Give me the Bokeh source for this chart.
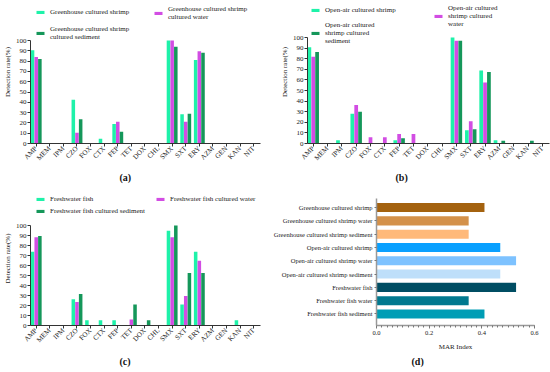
import math
import numpy as np
from bokeh.plotting import figure
from bokeh.models import (Range1d, FixedTicker, Legend, LegendItem, Title,
                          ColumnDataSource, NumeralTickFormatter)
from bokeh.layouts import column, row
from bokeh.embed import file_html
from bokeh.resources import INLINE

# ---------------- data ----------------
drugs = ["AMP", "MEM", "IPM", "CZO", "FOX", "CTX", "FEP", "TET", "DOX", "CHL",
         "SMX", "SXT", "ERY", "AZM", "GEN", "KAN", "NIT"]

a_shrimp = [90.5, 0, 0, 42.5, 0, 4.5, 19, 0, 0, 0, 100, 28.5, 81, 0, 0, 0, 0]
a_water = [84, 0, 0, 10.5, 0, 0, 21, 0, 0, 0, 100, 21, 89.5, 0, 0, 0, 0]
a_sed = [82, 0, 0, 23.5, 0, 0, 11.5, 0, 0, 0, 94, 29, 88, 0, 0, 0, 0]

b_shrimp = [90.9, 0, 3, 28, 0, 0, 3, 0, 0, 0, 100, 12.5, 68.8, 3, 0, 0, 0]
b_water = [81.8, 0, 0, 36.4, 6, 6, 9, 9, 0, 0, 97, 21, 57.6, 0, 0, 0, 0]
b_sed = [86.4, 0, 0, 30, 0, 0, 5, 0, 0, 0, 97, 13.5, 67.5, 2.7, 0, 2.7, 0]

c_fish = [73.7, 0, 0, 26.3, 5.3, 5.3, 5.3, 0, 0, 0, 94.7, 21, 73.7, 0, 0, 5.3, 0]
c_water = [88.2, 0, 0, 23.5, 0, 0, 0, 5.9, 0, 0, 88.2, 29.4, 64.7, 0, 0, 0, 0]
c_sed = [89.5, 0, 0, 31.6, 0, 0, 0, 21, 5.3, 0, 100, 52.6, 52.6, 0, 0, 0, 0]

a_labels = ["Greenhouse cultured shrimp", "Greenhouse cultured shrimp\ncultured water",
            "Greenhouse cultured shrimp\ncultured sediment"]
b_labels = ["Open-air cultured shrimp", "Open-air cultured\nshrimp cultured\nwater",
            "Open-air cultured\nshrimp cultured\nsediment"]
c_labels = ["Freshwater fish", "Freshwater fish cultured water",
            "Freshwater fish cultured sediment"]

y_ticks = [0, 10, 20, 30, 40, 50, 60, 70, 80, 90, 100]

mar_groups = ["Greenhouse cultured shrimp", "Greenhouse cultured shrimp water",
              "Greenhouse cultured shrimp sediment", "Open-air cultured shrimp",
              "Open-air cultured shrimp water", "Open-air cultured shrimp sediment",
              "Freshwater fish", "Freshwater fish water", "Freshwater fish sediment"]
mar_values = [0.41, 0.35, 0.35, 0.47, 0.53, 0.47, 0.53, 0.35, 0.41]
mar_ticks = [0.0, 0.2, 0.4, 0.6]

# ---------------- styles ----------------
FONT = "Liberation Serif"
series_colors = ["#1EF2A9", "#D24DE3", "#15975A"]
mar_colors = ["#A4620F", "#D4914A", "#FFB97A", "#09A0FF", "#7DC2FF", "#BEDFFA",
              "#004D63", "#00798F", "#009DB5"]


def style_axis(ax, size="7px"):
    ax.axis_line_color = "#333333"
    ax.major_tick_line_color = "#333333"
    ax.minor_tick_line_color = None
    ax.major_tick_out = 3
    ax.major_tick_in = 0
    ax.major_label_standoff = 1
    ax.major_label_text_font = FONT
    ax.major_label_text_font_size = size
    ax.major_label_text_color = "#222222"
    ax.axis_label_text_font = FONT
    ax.axis_label_text_font_size = "7px"
    ax.axis_label_text_font_style = "normal"
    ax.axis_label_text_color = "#222222"


def tag_title(text, offset, standoff):
    return Title(text=text, align="left", offset=offset, standoff=standoff,
                 text_font=FONT, text_font_style="bold", text_font_size="10px",
                 text_color="#111111")


def bar_panel(width, height, borders, y_end, series, labels, legend_pos, tag, tag_off,
              tag_standoff, xr):
    left, right, top, bottom = borders
    p = figure(width=width, height=height, output_backend="svg", toolbar_location=None,
               x_range=Range1d(*xr), y_range=Range1d(0, y_end),
               min_border_left=left, min_border_right=right,
               min_border_top=top, min_border_bottom=bottom)
    p.outline_line_color = None
    p.grid.visible = False
    x = np.arange(len(drugs))
    offsets = [-0.27, 0.0, 0.27]
    rends = []
    for vals, off, col in zip(series, offsets, series_colors):
        src = ColumnDataSource(dict(x=x + off, top=vals))
        r = p.vbar(x="x", top="top", width=0.26, source=src, fill_color=col, line_color=None)
        rends.append(r)
    style_axis(p.xaxis[0])
    style_axis(p.yaxis[0])
    p.xaxis.ticker = FixedTicker(ticks=list(range(len(drugs))))
    p.xaxis.major_label_overrides = {i: d for i, d in enumerate(drugs)}
    p.xaxis.major_label_orientation = math.pi / 4
    p.yaxis.ticker = FixedTicker(ticks=y_ticks)
    p.yaxis.bounds = (0, 100)
    p.yaxis.axis_label = "Detection rate(%)"
    p.yaxis.axis_label_standoff = 1
    for r, lab, (vx, vy) in zip(rends, labels, legend_pos):
        leg = Legend(items=[LegendItem(label=lab, renderers=[r])], location=(vx, vy),
                     background_fill_alpha=0, border_line_color=None, padding=0, margin=0,
                     spacing=0, glyph_width=10, glyph_height=4, label_standoff=5,
                     label_height=4, label_width=5, label_text_font=FONT,
                     label_text_font_size="7px", label_text_line_height=1.15,
                     label_text_color="#222222")
        p.add_layout(leg, "center")
    p.add_layout(tag_title(tag, tag_off, tag_standoff), "below")
    return p


# top row (height 191): frame bottom at y=143, 100% line at 40 (a) / 37 (b)
pa = bar_panel(270, 191, (28, 10, 0, 48), 100 * 143 / 103, [a_shrimp, a_water, a_sed], a_labels,
               [(5, 127.3), (123, 122.5), (5, 102.5)], "(a)", 89, 5, (-0.42, 16.5))
pb = bar_panel(280, 191, (37, 1, 0, 48), 100 * 143 / 106, [b_shrimp, b_water, b_sed], b_labels,
               [(3, 128.7), (126, 115), (3, 98)], "(b)", 88, 5, (-0.4, 16.5))
# bottom row (height 181, starts at y=191): frame bottom at 134 within figure (y=325)
pc = bar_panel(270, 181, (28, 10, 0, 47), 134.0, [c_fish, c_water, c_sed], c_labels,
               [(5, 122), (125, 122), (5, 110)], "(c)", 89, 9, (-0.42, 16.5))

# ---------------- panel d ----------------
n = len(mar_groups)
ypos = list(range(n - 1, -1, -1))
pd = figure(width=280, height=181, output_backend="svg", toolbar_location=None,
            y_range=Range1d(-0.865, 9.21), x_range=Range1d(0, 0.6),
            min_border_left=103, min_border_right=16, min_border_top=0, min_border_bottom=47)
pd.outline_line_color = None
pd.grid.visible = False
src_d = ColumnDataSource(dict(y=ypos, right=mar_values, color=mar_colors))
pd.hbar(y="y", right="right", left=0, height=0.68, fill_color="color", line_color=None, source=src_d)
style_axis(pd.xaxis[0], "6.5px")
style_axis(pd.yaxis[0], "6.5px")
for ax in (pd.xaxis[0], pd.yaxis[0]):
    ax.axis_line_color = "#999999"
    ax.axis_line_width = 1.5
    ax.major_tick_line_color = "#777777"
pd.yaxis.ticker = FixedTicker(ticks=ypos)
pd.yaxis.major_label_overrides = {yv: g for yv, g in zip(ypos, mar_groups)}
pd.yaxis.bounds = (-0.865, 8.68)
pd.yaxis.major_tick_out = 2
pd.yaxis.major_label_standoff = 2
pd.xaxis.ticker = FixedTicker(ticks=mar_ticks, minor_ticks=list(np.round(np.arange(0, 0.601, 0.02), 2)))
pd.xaxis.minor_tick_line_color = "#777777"
pd.xaxis.minor_tick_out = 2
pd.xaxis.minor_tick_in = 0
pd.xaxis.major_label_standoff = 2
pd.xaxis.formatter = NumeralTickFormatter(format="0.0")
pd.xaxis.axis_label = "MAR Index"
pd.xaxis.axis_label_standoff = 5
pd.add_layout(tag_title("(d)", 35, 1), "below")

layout = column(row(pa, pb), row(pc, pd))
open("out.html", "w").write(file_html(layout, INLINE))
